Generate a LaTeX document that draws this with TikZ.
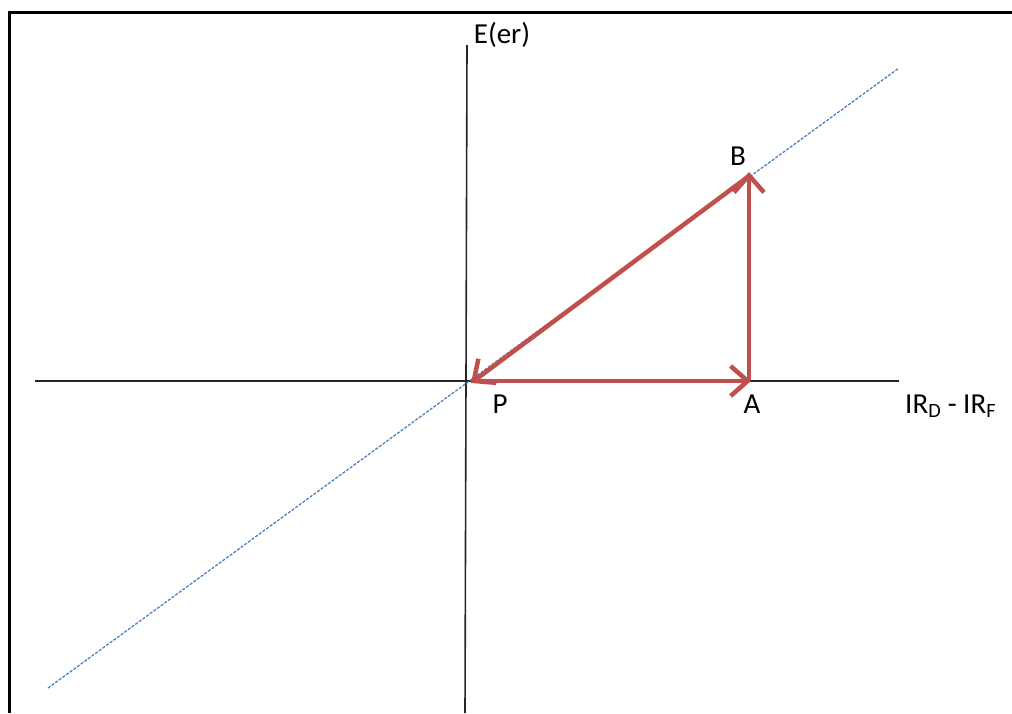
\documentclass[tikz,border=0pt]{standalone}
\usepackage{fontspec}
\setmainfont{Carlito}
\usetikzlibrary{arrows.meta}
\definecolor{arrred}{RGB}{192,80,77}
\definecolor{dashblue}{RGB}{79,129,189}
\begin{document}
\begin{tikzpicture}[x=1pt,y=-1pt,
  axis/.style={line width=1.6pt,black!85},
  frame/.style={line width=3pt,black},
  diag/.style={dashed,dash pattern=on 3pt off 1.5pt,line width=1.3pt,dashblue},
  vec/.style={line width=4.5pt,arrred,-{Straight Barb[length=17pt,width=30pt,line width=4.5pt]}},
  lbl/.style={font=\fontsize{29}{32}\selectfont,inner sep=0pt,anchor=base}]
\useasboundingbox (0,0) rectangle (1012,713);
% frame (left and top)
\draw[frame] (9,713) -- (9,12) -- (1012,12);
% coordinates
\coordinate (P) at (468,381);
\coordinate (A) at (749,381);
\coordinate (B) at (749,176);
\coordinate (dl) at (48,688);
\coordinate (du) at (899,68);
\coordinate (xl) at (35,381);
\coordinate (xr) at (899,381);
\coordinate (yt) at (467,45);
\coordinate (yb) at (465,713);
% axes
\draw[axis] (xl) -- (xr);
\draw[axis] (yt) -- (yb);
% dashed line
\draw[diag] (dl) -- (du);
% vectors
\draw[vec] ([xshift=5pt]P) -- ([xshift=2pt]A);
\draw[vec] ([yshift=1pt]A) -- ([yshift=4pt]B);
\draw[vec] (B) -- ([xshift=3pt,yshift=-2pt]P);
% labels
\node[lbl] (Lyax) at (502,43) {E(er)};
\node[lbl] (LB) at (738,165) {B};
\node[lbl] (LP) at (500,413) {P};
\node[lbl] (LA) at (752,413) {A};
\node[lbl,anchor=base west] (Lxax) at (905,413) {IR\textsubscript{D} - IR\textsubscript{F}};
\end{tikzpicture}
\end{document}
